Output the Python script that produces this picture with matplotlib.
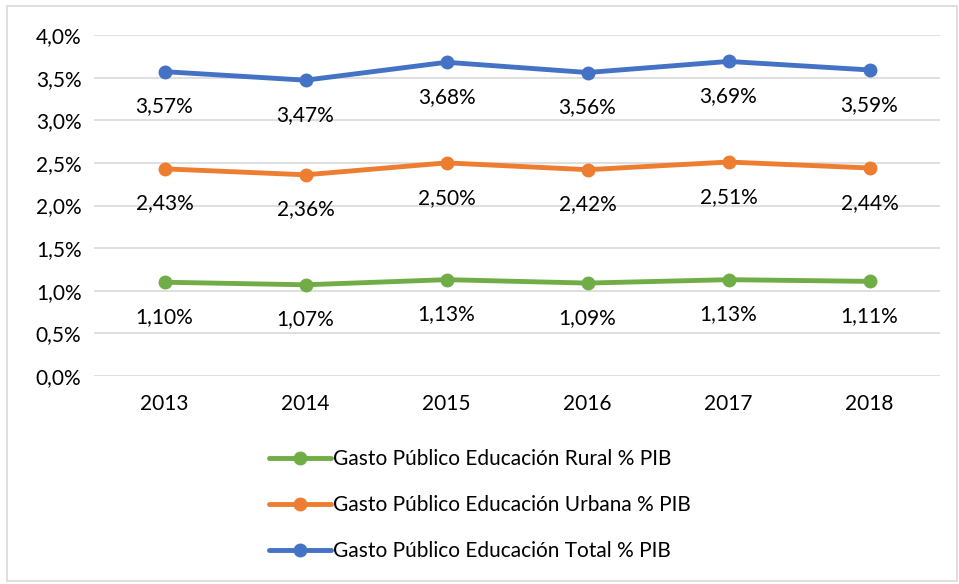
import matplotlib.pyplot as plt
from matplotlib.patches import Rectangle
from matplotlib.ticker import FuncFormatter

years = ["2013", "2014", "2015", "2016", "2017", "2018"]
rural = [1.10, 1.07, 1.13, 1.09, 1.13, 1.11]
urbana = [2.43, 2.36, 2.50, 2.42, 2.51, 2.44]
total = [3.57, 3.47, 3.68, 3.56, 3.69, 3.59]

labels = ["Gasto Público Educación Rural % PIB",
          "Gasto Público Educación Urbana % PIB",
          "Gasto Público Educación Total % PIB"]
colors = ["#70AD47", "#ED7D31", "#4472C4"]

plt.rcParams['font.family'] = ['Lato', 'DejaVu Sans']

fig = plt.figure(figsize=(9.59, 5.84), dpi=100)
W, H = 959, 584
ax = fig.add_axes([94 / W, 1 - 376 / H, (940 - 94) / W, (376 - 35) / H])

# outer chart border
fig.patches.append(Rectangle((7 / W, 3 / H), (957 - 7) / W, (578 - 3) / H,
                             transform=fig.transFigure, fill=False,
                             edgecolor="#D9D9D9", linewidth=1.2))

x = range(len(years))
for vals, lab, c in zip([rural, urbana, total], labels, colors):
    ax.plot(x, vals, color=c, linewidth=3.5, marker="o", markersize=9,
            label=lab, solid_capstyle="round")
    for xi, v in zip(x, vals):
        ax.annotate(f"{v:.2f}%".replace(".", ","), (xi, v), xytext=(0, -25),
                    textcoords="offset points", ha="center", va="center",
                    fontsize=15, color="#000000")

ax.set_xlim(-0.5, 5.5)
ax.set_ylim(0, 4.0)
ax.set_yticks([i * 0.5 for i in range(9)])
ax.yaxis.set_major_formatter(FuncFormatter(lambda v, p: f"{v:.1f}%".replace(".", ",")))
ax.set_xticks(list(x))
ax.set_xticklabels(years)
ax.grid(axis="y", color="#D9D9D9", linewidth=1.2)
ax.set_axisbelow(True)
for s in ax.spines.values():
    s.set_visible(False)
ax.tick_params(length=0, labelsize=15, colors="#000000")
ax.tick_params(axis="x", pad=13)
ax.tick_params(axis="y", pad=9)

leg = fig.legend(loc="center", bbox_to_anchor=(480 / W, 1 - 505 / H), frameon=False,
                 fontsize=15, handlelength=3.0, labelspacing=1.25, handletextpad=0.1)

fig.savefig("out.png", dpi=100)
